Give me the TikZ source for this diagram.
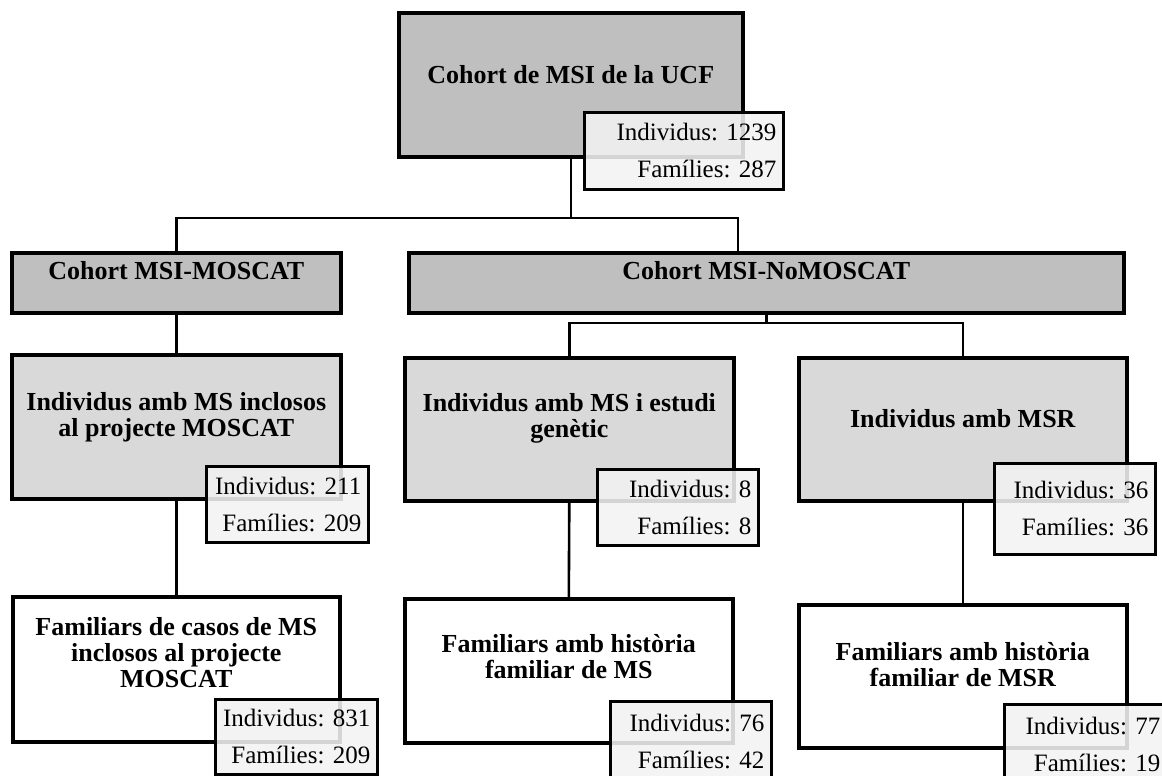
\documentclass[tikz,border=0pt]{standalone}
\usepackage{fontspec}
\setmainfont{Liberation Serif}
\frenchspacing
\definecolor{darkfill}{HTML}{BFBFBF}
\definecolor{midfill}{HTML}{D9D9D9}
\definecolor{cntfill}{HTML}{F2F2F2}
\begin{document}
\begin{tikzpicture}[x=1pt,y=-1pt,
  box/.style={draw=black, line width=2.6pt, anchor=north west, inner sep=0pt},
  ttl/.style={font=\bfseries\fontsize{26}{26}\selectfont, align=center, inner sep=0pt},
  cnt/.style={draw=black, line width=2.6pt, anchor=north west, fill=cntfill, fill opacity=0.88, text opacity=1, draw opacity=1,
              font=\fontsize{25}{37}\selectfont, align=right, inner xsep=7pt, inner ysep=0pt},
  conn/.style={draw=black, line width=2.6pt}]
\useasboundingbox (0,0) rectangle (1162,776);
\clip (0,0) rectangle (1162,776);

% boxes
\node[box, fill=darkfill, minimum width=343pt, minimum height=143pt] (top) at (398,12) {};
\node[box, fill=darkfill, minimum width=328pt, minimum height=59pt] (moscat) at (11,252) {};
\node[box, fill=darkfill, minimum width=714pt, minimum height=59pt] (nomos) at (408,252) {};
\node[box, fill=midfill, minimum width=328pt, minimum height=143pt] (ind1) at (11,354) {};
\node[box, fill=midfill, minimum width=328pt, minimum height=142pt] (ind2) at (404,357) {};
\node[box, fill=midfill, minimum width=327pt, minimum height=142pt] (ind3) at (798,357) {};
\node[box, fill=white, minimum width=326pt, minimum height=144pt] (fam1) at (12,596) {};
\node[box, fill=white, minimum width=327pt, minimum height=143pt] (fam2) at (404,598) {};
\node[box, fill=white, minimum width=327pt, minimum height=142pt] (fam3) at (798,604) {};

% connectors
\coordinate (hj) at (738,218);
\coordinate (hk) at (0,323);
\draw[conn] (top.south) -- (top.south |- hj);
\draw[conn] (moscat.north) |- (hj) -- (hj |- nomos.north);
\draw[conn] (nomos.south) -- (nomos.south |- hk);
\draw[conn] (ind2.north) |- (ind3.north |- hk) -- (ind3.north);
\draw[conn] (moscat.south) -- (ind1.north);
\draw[conn] (ind1.south) -- (fam1.north);
\draw[conn] (ind2.south) -- (fam2.north);
\draw[conn] (ind3.south) -- (fam3.north);

% redraw box borders over connector ends
\foreach \n in {top,moscat,nomos,ind1,ind2,ind3,fam1,fam2,fam3}{
  \draw[line width=2.6pt] (\n.north west) rectangle (\n.south east);
}

% titles
\node[ttl, yshift=10pt] (t0) at (top.center) {Cohort de MSI de la UCF};
\node[ttl, yshift=12pt] (t1) at (moscat.center) {Cohort MSI-MOSCAT};
\node[ttl, yshift=12pt] (t2) at (nomos.center) {Cohort MSI-NoMOSCAT};
\node[ttl, yshift=10pt] (t3) at (ind1.center) {Individus amb MS inclosos\\al projecte MOSCAT};
\node[ttl, yshift=11pt] (t4) at (ind2.center) {Individus amb MS i estudi\\genètic};
\node[ttl, yshift=11pt] (t5) at (ind3.center) {Individus amb MSR};
\node[ttl, yshift=17pt] (t6) at (fam1.center) {Familiars de casos de MS\\inclosos al projecte\\MOSCAT};
\node[ttl, yshift=14pt] (t7) at (fam2.center) {Familiars amb història\\familiar de MS};
\node[ttl, yshift=12pt] (t8) at (fam3.center) {Familiars amb història\\familiar de MSR};

% counts
\node[cnt, minimum width=199pt, minimum height=77pt, text width=185pt] (c0) at (583,111) {Individus: 1239\\Famílies: 287};
\node[cnt, minimum width=162pt, minimum height=76pt, text width=148pt] (c1) at (205,465) {Individus: 211\\Famílies: 209};
\node[cnt, minimum width=161pt, minimum height=76pt, text width=147pt] (c2) at (596,468) {Individus: 8\\Famílies: 8};
\node[cnt, minimum width=161pt, minimum height=91pt, text width=147pt] (c3) at (993,462) {Individus: 36\\Famílies: 36};
\node[cnt, minimum width=162pt, minimum height=75pt, text width=148pt] (c4) at (214,698) {Individus: 831\\Famílies: 209};
\node[cnt, minimum width=161pt, minimum height=80pt, text width=147pt] (c5) at (609,700) {Individus: 76\\Famílies: 42};
\node[cnt, minimum width=163pt, minimum height=80pt, text width=149pt] (c6) at (1003,703) {Individus: 77\\Famílies: 19};
\end{tikzpicture}
\end{document}
